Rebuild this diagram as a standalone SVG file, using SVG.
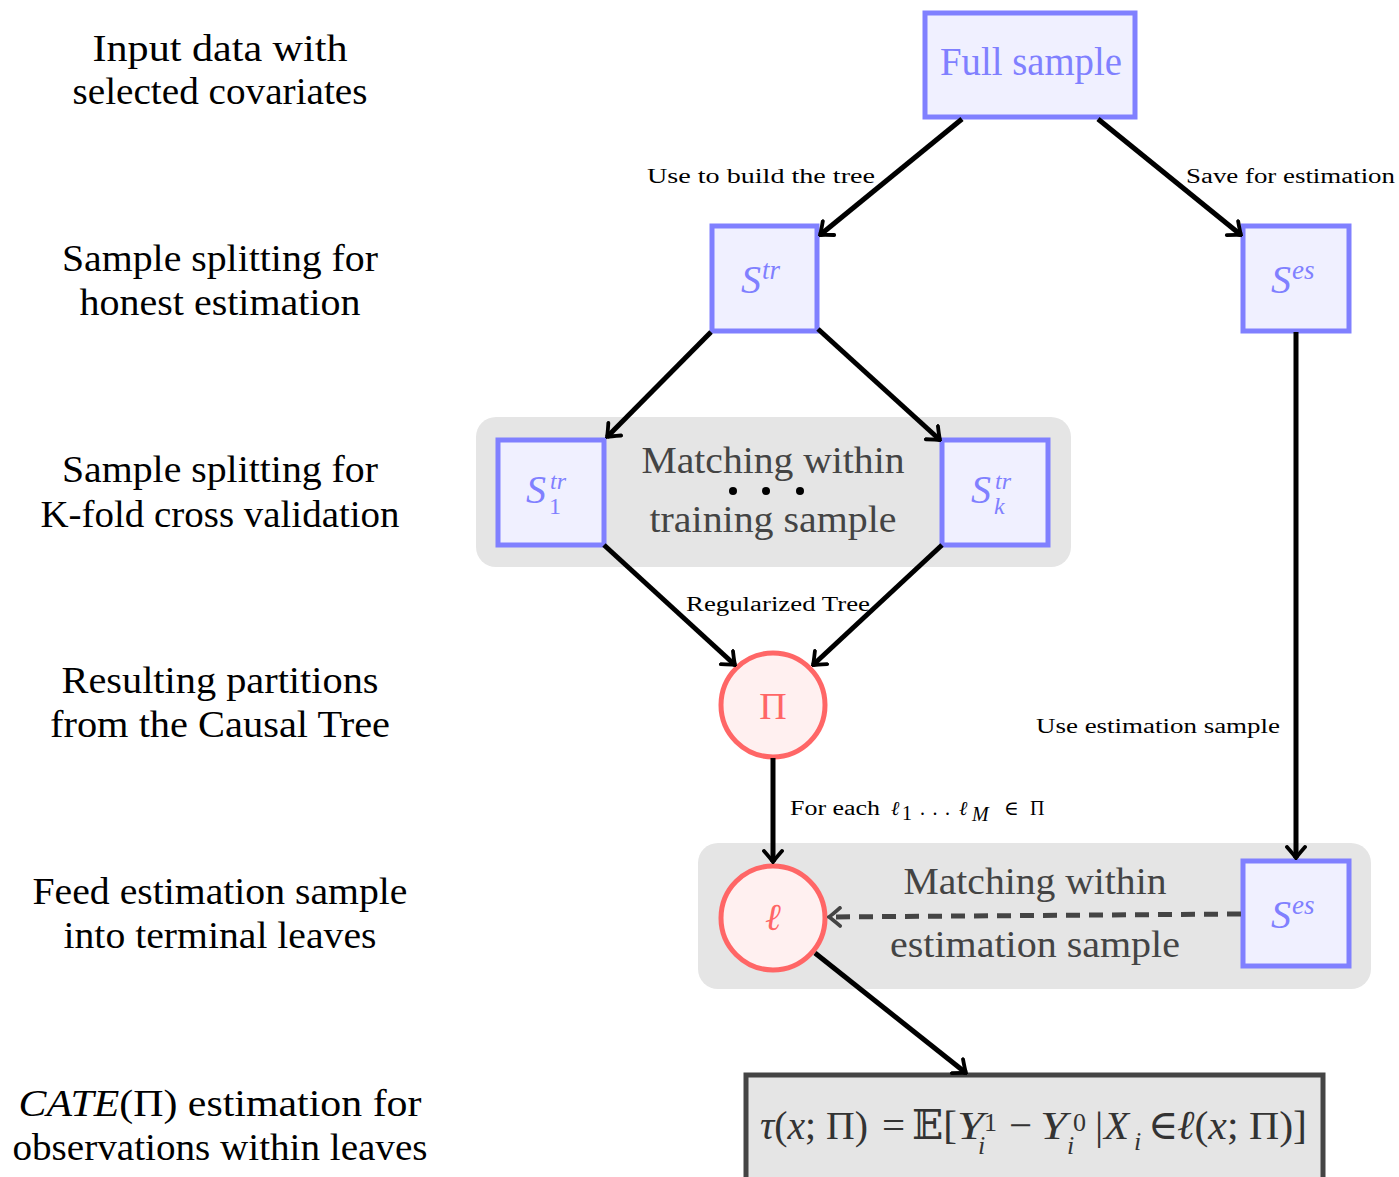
<svg xmlns="http://www.w3.org/2000/svg" width="1399" height="1177" viewBox="0 0 1399 1177">
<style>
.lbl{font-family:"Liberation Serif","DejaVu Serif",serif;font-size:37px;fill:#000;text-anchor:middle}
.sm{font-family:"Liberation Serif","DejaVu Serif",serif;font-size:20px;fill:#000}
.bx{fill:#f0f0ff;stroke:#8080ff;stroke-width:5}
.bt{font-family:"Liberation Serif","DejaVu Serif",serif;font-size:39px;fill:#8080ff;text-anchor:middle}
.mt{font-family:"Liberation Serif","DejaVu Serif",serif;fill:#8080ff;font-style:italic}
.ci{fill:#fff0f0;stroke:#ff6666;stroke-width:5}
.ct{font-family:"Liberation Serif","DejaVu Serif",serif;font-size:38px;fill:#ff6666;text-anchor:middle}
.grp{fill:#e5e5e5}
.gt{font-family:"Liberation Serif","DejaVu Serif",serif;font-size:38px;fill:#444;text-anchor:middle}
.fm{font-family:"Liberation Serif","DejaVu Serif",serif;font-size:41px;fill:#333}
.fs{font-family:"Liberation Serif","DejaVu Serif",serif;font-size:26px;fill:#333}
.e{stroke:#000;stroke-width:5;fill:none;marker-end:url(#ar)}
.d{stroke:#444;stroke-width:5;fill:none;stroke-dasharray:14 9;marker-end:url(#ard)}
</style>
<defs>
<marker id="ar" viewBox="-13 -11 15 22" refX="0" refY="0" markerWidth="15" markerHeight="22" markerUnits="userSpaceOnUse" orient="auto">
<path d="M-11,-9 Q-3,-2 0,0 Q-3,2 -11,9" fill="none" stroke="#000" stroke-width="3.8" stroke-linecap="round"/>
</marker>
<marker id="ard" viewBox="-13 -11 15 22" refX="0" refY="0" markerWidth="15" markerHeight="22" markerUnits="userSpaceOnUse" orient="auto">
<path d="M-11,-9 Q-3,-2 0,0 Q-3,2 -11,9" fill="none" stroke="#444" stroke-width="3.8" stroke-linecap="round"/>
</marker>
</defs>
<rect width="1399" height="1177" fill="#fff"/>

<g id="row-labels">
<text class="lbl" x="220" y="61" textLength="255" lengthAdjust="spacingAndGlyphs">Input data with</text>
<text class="lbl" x="220" y="104" textLength="295" lengthAdjust="spacingAndGlyphs">selected covariates</text>
<text class="lbl" x="220" y="271" textLength="316" lengthAdjust="spacingAndGlyphs">Sample splitting for</text>
<text class="lbl" x="220" y="315" textLength="281" lengthAdjust="spacingAndGlyphs">honest estimation</text>
<text class="lbl" x="220" y="482" textLength="316" lengthAdjust="spacingAndGlyphs">Sample splitting for</text>
<text class="lbl" x="220" y="527" textLength="359" lengthAdjust="spacingAndGlyphs">K-fold cross validation</text>
<text class="lbl" x="220" y="693" textLength="317" lengthAdjust="spacingAndGlyphs">Resulting partitions</text>
<text class="lbl" x="220" y="737" textLength="340" lengthAdjust="spacingAndGlyphs">from the Causal Tree</text>
<text class="lbl" x="220" y="904" textLength="375" lengthAdjust="spacingAndGlyphs">Feed estimation sample</text>
<text class="lbl" x="220" y="948" textLength="313" lengthAdjust="spacingAndGlyphs">into terminal leaves</text>
<text class="lbl" x="220" y="1116" textLength="403" lengthAdjust="spacingAndGlyphs"><tspan font-style="italic">CATE</tspan>(Π) estimation for</text>
<text class="lbl" x="220" y="1160" textLength="415" lengthAdjust="spacingAndGlyphs">observations within leaves</text>
</g>

<g id="group-training">
<rect class="grp" x="476" y="417" width="595" height="150" rx="20"/>
<text class="gt" x="773" y="473" textLength="263" lengthAdjust="spacingAndGlyphs">Matching within</text>
<text class="gt" x="773" y="532" textLength="247" lengthAdjust="spacingAndGlyphs">training sample</text>
<circle cx="733" cy="491" r="4" fill="#000"/>
<circle cx="766" cy="491" r="4" fill="#000"/>
<circle cx="800" cy="491" r="4" fill="#000"/>
</g>

<g id="group-estimation">
<rect class="grp" x="698" y="843" width="673" height="146" rx="20"/>
<text class="gt" x="1035" y="894" textLength="263" lengthAdjust="spacingAndGlyphs">Matching within</text>
<text class="gt" x="1035" y="957" textLength="290" lengthAdjust="spacingAndGlyphs">estimation sample</text>
</g>

<g id="node-full">
<rect class="bx" x="925" y="13" width="210" height="104"/>
<text class="bt" x="1031" y="75" textLength="182" lengthAdjust="spacingAndGlyphs">Full sample</text>
</g>
<g id="node-str">
<rect class="bx" x="712" y="226" width="105" height="105"/>
<text class="mt" x="741" y="293" font-size="40">S</text>
<text class="mt" x="762" y="279" font-size="27">tr</text>
</g>
<g id="node-ses-top">
<rect class="bx" x="1243" y="226" width="106" height="105"/>
<text class="mt" x="1271" y="293" font-size="40">S</text>
<text class="mt" x="1292" y="279" font-size="27">es</text>
</g>
<g id="node-s1">
<rect class="bx" x="498" y="440" width="106" height="105"/>
<text class="mt" x="526" y="503" font-size="40">S</text>
<text class="mt" x="550" y="489" font-size="24">tr</text>
<text x="549" y="514" font-family="Liberation Serif, serif" font-size="24" fill="#8080ff">1</text>
</g>
<g id="node-sk">
<rect class="bx" x="942" y="440" width="106" height="105"/>
<text class="mt" x="971" y="503" font-size="40">S</text>
<text class="mt" x="995" y="489" font-size="24">tr</text>
<text class="mt" x="994" y="514" font-size="24">k</text>
</g>
<g id="node-pi">
<circle class="ci" cx="773" cy="705" r="52"/>
<text class="ct" x="773" y="719">Π</text>
</g>
<g id="node-leaf">
<circle class="ci" cx="773" cy="918" r="52"/>
<text class="ct" x="773" y="930" font-style="italic" font-size="32">ℓ</text>
</g>
<g id="node-ses-bot">
<rect class="bx" x="1243" y="861" width="106" height="105"/>
<text class="mt" x="1271" y="928" font-size="40">S</text>
<text class="mt" x="1292" y="914" font-size="27">es</text>
</g>
<g id="node-tau">
<rect x="746" y="1075" width="577" height="110" fill="#e5e5e5" stroke="#444" stroke-width="5"/>
<text class="fm" x="760" y="1139" textLength="108" lengthAdjust="spacingAndGlyphs"><tspan font-style="italic">τ</tspan>(<tspan font-style="italic">x</tspan>; Π)</text>
<text class="fm" x="882" y="1139">=</text>
<text class="fm" x="912" y="1139">𝔼[</text>
<text class="fm" x="957" y="1139" font-style="italic" textLength="27" lengthAdjust="spacingAndGlyphs">Y</text>
<text class="fs" x="984" y="1131">1</text>
<text class="fs" x="978" y="1154" font-style="italic">i</text>
<text class="fm" x="1009" y="1139">−</text>
<text class="fm" x="1040" y="1139" font-style="italic" textLength="27" lengthAdjust="spacingAndGlyphs">Y</text>
<text class="fs" x="1073" y="1131">0</text>
<text class="fs" x="1067" y="1154" font-style="italic">i</text>
<text class="fm" x="1095" y="1139">|</text>
<text class="fm" x="1104" y="1139" font-style="italic">X</text>
<text class="fs" x="1134" y="1150" font-style="italic">i</text>
<text class="fm" x="1148" y="1139" font-size="36">∈</text>
<text class="fm" x="1177" y="1139" textLength="130" lengthAdjust="spacingAndGlyphs"><tspan font-style="italic">ℓ</tspan>(<tspan font-style="italic">x</tspan>; Π)]</text>
</g>

<g id="connectors">
<line class="e" x1="962" y1="119" x2="820" y2="235"/>
<line class="e" x1="1098" y1="119" x2="1241" y2="235"/>
<line class="e" x1="711" y1="332" x2="607" y2="437"/>
<line class="e" x1="818" y1="329" x2="940" y2="440"/>
<line class="e" x1="1296" y1="332" x2="1296" y2="858"/>
<line class="e" x1="604" y1="545" x2="735" y2="665"/>
<line class="e" x1="942" y1="545" x2="813" y2="665"/>
<line class="e" x1="773" y1="758" x2="773" y2="862"/>
<line class="d" x1="1241" y1="914" x2="829" y2="917"/>
<line class="e" x1="815" y1="953" x2="966" y2="1073"/>
</g>

<g id="edge-labels">
<text class="sm" x="647" y="183" textLength="228" lengthAdjust="spacingAndGlyphs">Use to build the tree</text>
<text class="sm" x="1186" y="183" textLength="209" lengthAdjust="spacingAndGlyphs">Save for estimation</text>
<text class="sm" x="686" y="611" textLength="184" lengthAdjust="spacingAndGlyphs">Regularized Tree</text>
<text class="sm" x="1036" y="733" textLength="244" lengthAdjust="spacingAndGlyphs">Use estimation sample</text>
<text class="sm" x="790" y="815" textLength="90" lengthAdjust="spacingAndGlyphs">For each</text>
<text class="sm" x="891" y="815" font-style="italic" font-size="23">ℓ</text>
<text class="sm" x="902" y="820" font-size="19">1</text>
<text class="sm" x="920" y="815" textLength="30" lengthAdjust="spacing">. . .</text>
<text class="sm" x="959" y="815" font-style="italic" font-size="23">ℓ</text>
<text class="sm" x="972" y="821" font-style="italic" font-size="19">M</text>
<text class="sm" x="1004" y="815">∈</text>
<text class="sm" x="1030" y="815">Π</text>
</g>
</svg>
